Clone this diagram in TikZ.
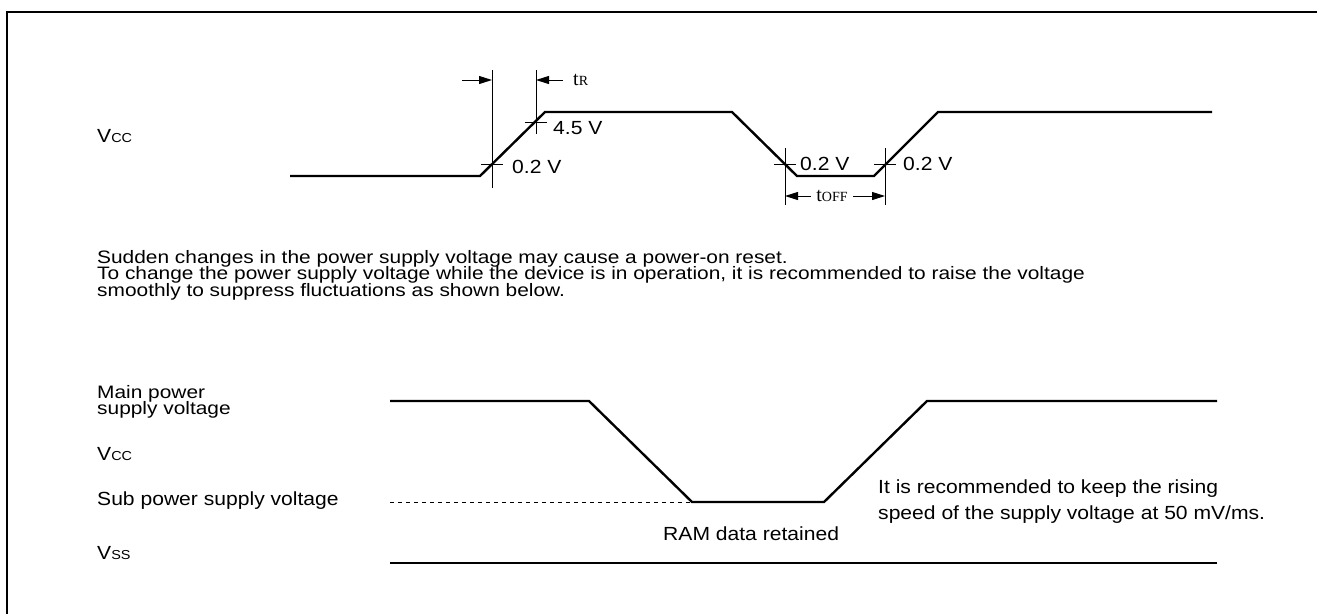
\documentclass[tikz,border=0pt]{standalone}
\usepackage{fontspec}
\setmainfont[FakeStretch=1.11]{Liberation Sans}
\newfontfamily\parrafo[FakeStretch=1.16]{Liberation Sans}
\newfontfamily\serifa{Liberation Serif}
\usetikzlibrary{arrows.meta}
\newcommand{\peq}[1]{{\fontsize{13}{13}\selectfont #1}}
\tikzset{
    senal/.style={line width=2.4pt},
    fina/.style={line width=1pt},
    flecha/.style={line width=1pt, -{Triangle[length=13pt,width=8pt]}},
    etiq/.style={inner sep=0pt, anchor=base west, font=\fontsize{19}{22}\selectfont},
    texto/.style={inner sep=0pt, anchor=base west, font=\parrafo\fontsize{18}{16}\selectfont},
    tiempo/.style={inner sep=0pt, font=\serifa\fontsize{20}{20}\selectfont},
}
\begin{document}
\begin{tikzpicture}[x=1pt,y=-1pt]
        \useasboundingbox (0,0) rectangle (1317,614);
        % ~~~~ Marco ~~~~%
        \draw[line width=1.3pt] (7,614) -- (7,12) -- (1317,12);

        % ~~~~ Forma de onda de Vcc ~~~~%
        \draw[senal] (290,176) -- (480,176) -- (545,112) -- (732,112)
            -- (797,176) -- (874,176) -- (938,112) -- (1212,112);
        \coordinate (r1) at (492,164);
        \coordinate (r2) at (536,122);
        \coordinate (f1) at (785,164);
        \coordinate (f2) at (885,164);
        \foreach \p in {r1,r2,f1,f2}
            \draw[fina] ([xshift=-11pt]\p) -- ([xshift=11pt]\p);
        \draw[fina] (492,70) -- (492,188);
        \draw[fina] (536,70) -- (536,134);
        \draw[fina] (785,148) -- (785,205);
        \draw[fina] (885,148) -- (885,205);

        % ~~~~ Tiempos tR y tOFF ~~~~%
        \draw[flecha] (462,80) -- (492,80);
        \draw[flecha] (563,80) -- (536,80);
        \node[tiempo, anchor=west] (tr) at (573,80) {t{\fontsize{14}{14}\selectfont R}};
        \node[tiempo, inner xsep=5pt] (toff) at (832,196) {t{\fontsize{14}{14}\selectfont OFF}};
        \draw[flecha] (toff.west) -- (785,196);
        \draw[flecha] (toff.east) -- (885,196);

        % ~~~~ Etiquetas ~~~~%
        \node[etiq] (vcc1) at (97,142) {V\peq{CC}};
        \node[etiq] (v45) at (553,134) {4.5 V};
        \node[etiq] (v02a) at (512,173) {0.2 V};
        \node[etiq] (v02b) at (800,170) {0.2 V};
        \node[etiq] (v02c) at (903,170) {0.2 V};

        % ~~~~ Texto ~~~~%
        \node[texto] (p1) at (97,263) {Sudden changes in the power supply voltage may cause a power-on reset.};
        \node[texto] (p2) at (97,279.5) {To change the power supply voltage while the device is in operation, it is recommended to raise the voltage};
        \node[texto] (p3) at (97,296) {smoothly to suppress fluctuations as shown below.};

        % ~~~~ Fuente principal y secundaria ~~~~%
        \draw[senal] (390,401) -- (589,401) -- (692,502) -- (824,502)
            -- (927,401) -- (1217,401);
        \draw[fina, dash pattern=on 4pt off 4pt] (390,502) -- (692,502);
        \draw[senal] (390,563) -- (1217,563);

        \node[texto] (mp1) at (97,398) {Main power};
        \node[texto] (mp2) at (97,414.5) {supply voltage};
        \node[etiq] (vcc2) at (97,460) {V\peq{CC}};
        \node[etiq] (sub) at (97,505) {Sub power supply voltage};
        \node[etiq] (vss) at (97,559) {V\peq{SS}};
        \node[etiq] (ram) at (663,540) {RAM data retained};
        \node[etiq] (rec1) at (878,493) {It is recommended to keep the rising};
        \node[etiq] (rec2) at (878,519) {speed of the supply voltage at 50 mV/ms.};
    \end{tikzpicture}
\end{document}
